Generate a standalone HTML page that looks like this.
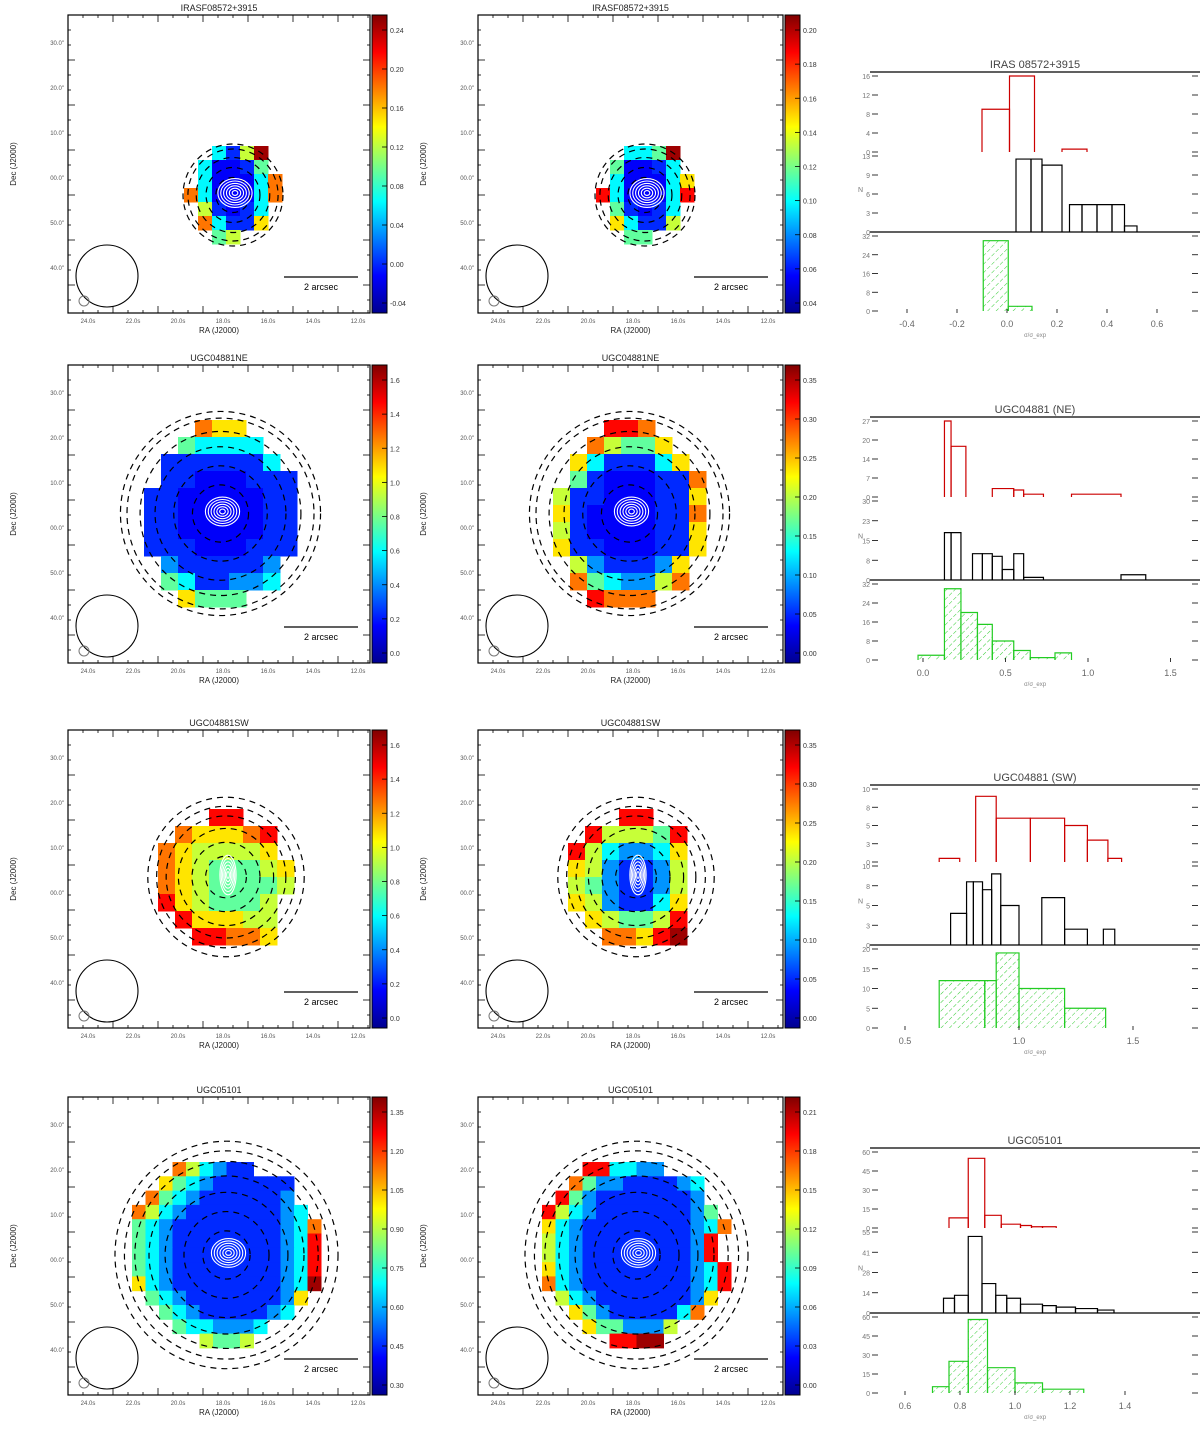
<!DOCTYPE html>
<html><head><meta charset="utf-8"><style>
html,body{margin:0;padding:0;background:#fff;}
svg{display:block;font-family:"Liberation Sans",sans-serif;}
</style></head><body>
<svg id="fig" width="1200" height="1431" viewBox="0 0 1200 1431" xmlns="http://www.w3.org/2000/svg">
<defs>
<linearGradient id="jet" x1="0" y1="1" x2="0" y2="0">
<stop offset="0" stop-color="#00008f"/><stop offset="0.125" stop-color="#0000ff"/>
<stop offset="0.375" stop-color="#00ffff"/><stop offset="0.625" stop-color="#ffff00"/>
<stop offset="0.875" stop-color="#ff0000"/><stop offset="1" stop-color="#800000"/>
</linearGradient>
<pattern id="hatch" width="6" height="6" patternUnits="userSpaceOnUse" patternTransform="rotate(45)">
<line x1="0" y1="0" x2="0" y2="6" stroke="#33cc33" stroke-width="1" stroke-dasharray="2,2"/>
</pattern>
</defs>
</svg>
<script>
// ---------- map data (colour index 0..9, '.' = empty) ----------
const titles = ["IRASF08572+3915","UGC04881NE","UGC04881SW","UGC05101"];
const gridR1P1 = ["..3159.",".30014.",".300037","7300037",".51013.",".73116.","..45..."];
const gridR1P2 = ["..3349.",".40013.",".300036","8300038",".41013.",".63115.","..44..."];
const gridR2P1 = ["...766...","..43333..",".1111113.",".11000111","110000011","110000011","110000011","111000111",".2111112.",".4311223.","..6444..."];
const gridR2P2 = ["...887...","..75446..",".6311136.",".41000117","511000116","610000117","510000116","611000116",".5211126.",".7432257.","..8777..."];
const gridR3P1 = ["...88...",".766678.","7655556.","76544456","76544445","8654445.",".866655.","..88776."];
const gridR3P2 = ["...88...",".855548.","8532236.","6521125.","5421125.","6521136.",".654458.","..77689."];
const gridR4P1 = ["...753211.....","..6432111111..",".74321111112..","7532111111123.","43211111111237","43211111111238","43211111111238","43211111111238","63211111111239",".432111111126.","..4321111123..","...4332223....",".....5445....."];
const gridR4P2 = ["...883322.....","..7422111123..",".84211111112..","8532111111124.","63211111111237","5321111111128.","5321111111128.","63211111111238","73211111111238",".532111111126.","..6421111137..","...6442225....",".....8899....."];
const cbLabelsR1P1 = ["0.24","0.20","0.16","0.12","0.08","0.04","0.00","-0.04"];
const cbLabelsR1P2 = ["0.20","0.18","0.16","0.14","0.12","0.10","0.08","0.06","0.04"];
const cbLabelsR2P1 = ["1.6","1.4","1.2","1.0","0.8","0.6","0.4","0.2","0.0"];
const cbLabelsR2P2 = ["0.35","0.30","0.25","0.20","0.15","0.10","0.05","0.00"];
const cbLabelsR3P1 = ["1.6","1.4","1.2","1.0","0.8","0.6","0.4","0.2","0.0"];
const cbLabelsR3P2 = ["0.35","0.30","0.25","0.20","0.15","0.10","0.05","0.00"];
const cbLabelsR4P1 = ["1.35","1.20","1.05","0.90","0.75","0.60","0.45","0.30"];
const cbLabelsR4P2 = ["0.21","0.18","0.15","0.12","0.09","0.06","0.03","0.00"];
const raLabels = ["24.0s","22.0s","20.0s","18.0s","16.0s","14.0s","12.0s"];
const decLabels = ["30.0\"","20.0\"","10.0\"","00.0\"","50.0\"","40.0\""];

// ---------- histogram data ----------
const histTitles = ["IRAS 08572+3915","UGC04881 (NE)","UGC04881 (SW)","UGC05101"];
const h1XTicks = [-0.4,-0.2,0.0,0.2,0.4,0.6];
const h1RedEdges = [-0.1,0.01,0.11,0.22,0.32];   const h1RedN = [9,16,0,0.6];
const h1BlkEdges = [0.036,0.096,0.14,0.22,0.25,0.30,0.36,0.42,0.47,0.52]; const h1BlkN = [12,12,11,0,4.5,4.5,4.5,4.5,1];
const h1GrnEdges = [-0.095,0.005,0.1];           const h1GrnN = [30,2];
const h1YMax = [16,12.5,32];
const h2XTicks = [0.0,0.5,1.0,1.5];
const h2RedEdges = [0.13,0.17,0.26,0.42,0.55,0.61,0.73,0.9,1.2]; const h2RedN = [27,18,0,3,2.5,1,0,1];
const h2BlkEdges = [0.13,0.17,0.23,0.30,0.36,0.42,0.48,0.55,0.61,0.73,1.2,1.35]; const h2BlkN = [18,18,0,10,10,9,4,10,1,0,2];
const h2GrnEdges = [-0.03,0.13,0.23,0.33,0.42,0.55,0.65,0.8,0.9]; const h2GrnN = [2,30,20,15,8,4,1,3];
const h2YMax = [27,30,32];
const h3XTicks = [0.5,1.0,1.5];
const h3RedEdges = [0.65,0.74,0.81,0.9,1.05,1.2,1.3,1.39,1.45]; const h3RedN = [0.5,0,9,6,6,5,3,0.5];
const h3BlkEdges = [0.7,0.77,0.8,0.84,0.88,0.92,1.0,1.1,1.2,1.3,1.37,1.42]; const h3BlkN = [4,8,8,7,9,5,0,6,2,0,2];
const h3GrnEdges = [0.65,0.85,0.9,1.0,1.2,1.38]; const h3GrnN = [12,12,19,10,5];
const h3YMax = [10,10,20];
const h4XTicks = [0.6,0.8,1.0,1.2,1.4];
const h4RedEdges = [0.76,0.83,0.89,0.95,1.02,1.06,1.1,1.15]; const h4RedN = [8,55,10,3,2,1,1];
const h4BlkEdges = [0.74,0.78,0.83,0.88,0.93,0.97,1.02,1.1,1.15,1.22,1.3,1.36]; const h4BlkN = [10,12,52,20,12,10,6,5,4,3,2];
const h4GrnEdges = [0.7,0.76,0.83,0.9,1.0,1.1,1.25]; const h4GrnN = [5,25,58,20,8,3];
const h4YMax = [60,55,60];

// ---------- drawing ----------
const svg = document.getElementById('fig');
const NS = 'http://www.w3.org/2000/svg';
function mk(tag, attrs, parent){ const e=document.createElementNS(NS,tag); for(const k in attrs) e.setAttribute(k,attrs[k]); (parent||svg).appendChild(e); return e; }
function cl(v){return Math.max(0,Math.min(1,v));}
function jet(t){ const r=cl(1.5-Math.abs(4*t-3)), g=cl(1.5-Math.abs(4*t-2)), b=cl(1.5-Math.abs(4*t-1));
  return 'rgb('+Math.round(r*255)+','+Math.round(g*255)+','+Math.round(b*255)+')'; }
const colorStops = [0.12,0.165,0.27,0.37,0.47,0.57,0.65,0.76,0.87,0.97];
function idxColor(i){ return jet(colorStops[i]); }

const rowsY = [15,365,730,1097];
const contourF = [[0.35,0.55,0.75,0.92,1.02],[0.3,0.5,0.7,0.86,1.0,1.07],[0.3,0.5,0.7,0.88,1.02,1.15],[0.25,0.45,0.65,0.82,0.97,1.08,1.18]];
const mapGeo = [
 [{x:68,w:302,grid:gridR1P1,ox:184,oy:146,cw:14,ch:14,cb:cbLabelsR1P1},{x:478,w:305,grid:gridR1P2,ox:596,oy:146,cw:14,ch:14,cb:cbLabelsR1P2}],
 [{x:68,w:302,grid:gridR2P1,ox:144,oy:420,cw:17,ch:17,cb:cbLabelsR2P1},{x:478,w:305,grid:gridR2P2,ox:553,oy:420,cw:17,ch:17,cb:cbLabelsR2P2}],
 [{x:68,w:302,grid:gridR3P1,ox:158,oy:809,cw:17,ch:17,cb:cbLabelsR3P1},{x:478,w:305,grid:gridR3P2,ox:568,oy:809,cw:17,ch:17,cb:cbLabelsR3P2}],
 [{x:68,w:302,grid:gridR4P1,ox:132,oy:1162,cw:13.5,ch:14.3,cb:cbLabelsR4P1},{x:478,w:305,grid:gridR4P2,ox:542,oy:1162,cw:13.5,ch:14.3,cb:cbLabelsR4P2}]
];
const H = 298;

mapGeo.forEach((row,ri)=>{
 row.forEach((p,pi)=>{
  const y0 = rowsY[ri], x0=p.x, w=p.w;
  const g = mk('g',{});
  
  
  p.grid.forEach((rs,r)=>{ for(let c=0;c<rs.length;c++){ const ch=rs[c]; if(ch==='.'||ch===' ') continue;
    const cell = mk('rect',{x:p.ox+c*p.cw,y:p.oy+r*p.ch,width:p.cw+0.5,height:p.ch+0.5,fill:idxColor(+ch)},g);
    
    
  }});
  const ncol = Math.max(...p.grid.map(s=>s.length)), nrow=p.grid.length;
  const cx = p.ox+ncol*p.cw/2, cy = p.oy+nrow*p.ch/2;
  const R = Math.max(ncol*p.cw,nrow*p.ch)/2;
  contourF[ri].forEach(f=>{
    const c=mk('ellipse',{cx:cx,cy:cy,rx:R*f,ry:R*f*1.02,fill:'none',stroke:'#000','stroke-width':1.2,'stroke-dasharray':'6,5'},g);
    
    
  });
  [3,6,9,12,15,18].forEach(r=>{
    const c=mk('ellipse',{cx:cx+2,cy:cy-2,rx:r*(ri===2?0.45:0.95),ry:r*(ri===2?1.1:0.8),fill:'none',stroke:'#fff','stroke-width':1.1},g);
    
    
  });
  const fr=mk('rect',{x:x0,y:y0,width:w,height:H,fill:'none',stroke:'#000','stroke-width':1.2},g);
  
  
  for(let t=x0+15;t<x0+w;t+=15){ const L=(Math.round((t-x0)/15)%3===0)?7:3;
    mk('line',{x1:t,y1:y0+H,x2:t,y2:y0+H-L,stroke:'#000','stroke-width':0.8},g);
    mk('line',{x1:t,y1:y0,x2:t,y2:y0+L,stroke:'#000','stroke-width':0.8},g); }
  for(let t=y0+15;t<y0+H;t+=15){ const L=(Math.round((t-y0)/15)%3===0)?7:3;
    mk('line',{x1:x0,y1:t,x2:x0+L,y2:t,stroke:'#000','stroke-width':0.8},g);
    mk('line',{x1:x0+w,y1:t,x2:x0+w-L,y2:t,stroke:'#000','stroke-width':0.8},g); }
  const tt=mk('text',{x:x0+w/2,y:y0-4,'text-anchor':'middle','font-size':9,fill:'#222'},g); tt.textContent=titles[ri];
   
  raLabels.forEach((s,i)=>{ const t=mk('text',{x:x0+20+i*45,y:y0+H+10,'text-anchor':'middle','font-size':6,fill:'#555'},g); t.textContent=s;
      });
  decLabels.forEach((s,i)=>{ const t=mk('text',{x:x0-4,y:y0+30+i*45,'text-anchor':'end','font-size':6,fill:'#555'},g); t.textContent=s;
      });
  const xl=mk('text',{x:x0+w/2,y:y0+H+20,'text-anchor':'middle','font-size':8,fill:'#222'},g); xl.textContent='RA (J2000)';
   
  const yl=mk('text',{x:0,y:0,'text-anchor':'middle','font-size':8,fill:'#222',transform:'translate('+(x0-52)+','+(y0+H/2)+') rotate(-90)'},g); yl.textContent='Dec (J2000)';
   
  const bm=mk('circle',{cx:x0+39,cy:y0+H-37,r:31,fill:'none',stroke:'#000','stroke-width':1.1},g);
   
  const bs=mk('circle',{cx:x0+16,cy:y0+H-12,r:5,fill:'none',stroke:'#777','stroke-width':1},g);
   
  const sb=mk('line',{x1:x0+216,y1:y0+H-36,x2:x0+290,y2:y0+H-36,stroke:'#000','stroke-width':1.2},g);
   
  const st=mk('text',{x:x0+253,y:y0+H-23,'text-anchor':'middle','font-size':9,fill:'#000'},g); st.textContent='2 arcsec';
   
  const bx=x0+w+2;
  const cb=mk('rect',{x:bx,y:y0,width:15,height:H,fill:'url(#jet)',stroke:'#000','stroke-width':1},g);
   
  const n=p.cb.length;
  p.cb.forEach((s,i)=>{ const ty=y0+15+i*(H-25)/(n-1);
    mk('line',{x1:bx+15,y1:ty,x2:bx+10,y2:ty,stroke:'#000','stroke-width':0.8},g);
    const t=mk('text',{x:bx+18,y:ty+3,'font-size':7,fill:'#333'},g); t.textContent=s;
      });
 });
});

const histGeo = [
 {x0:1007,sc:250,ys:[72,152,232,313],ticks:h1XTicks,red:[h1RedEdges,h1RedN],blk:[h1BlkEdges,h1BlkN],grn:[h1GrnEdges,h1GrnN],ym:h1YMax},
 {x0:923,sc:165,ys:[417,497,580,662],ticks:h2XTicks,red:[h2RedEdges,h2RedN],blk:[h2BlkEdges,h2BlkN],grn:[h2GrnEdges,h2GrnN],ym:h2YMax,off:0},
 {x0:905,sc:228,off:0.5,ys:[785,862,945,1030],ticks:h3XTicks,red:[h3RedEdges,h3RedN],blk:[h3BlkEdges,h3BlkN],grn:[h3GrnEdges,h3GrnN],ym:h3YMax},
 {x0:905,sc:275,off:0.6,ys:[1148,1228,1313,1395],ticks:h4XTicks,red:[h4RedEdges,h4RedN],blk:[h4BlkEdges,h4BlkN],grn:[h4GrnEdges,h4GrnN],ym:h4YMax}
];
histGeo.forEach((h,hi)=>{
  const g=mk('g',{});
  
  
  const X=v=>h.x0+h.sc*(v-(h.off||0));
  const L=870, Rr=1200;
  mk('line',{x1:L,y1:h.ys[0],x2:Rr,y2:h.ys[0],stroke:'#000','stroke-width':1.2},g);
  mk('line',{x1:L,y1:h.ys[2],x2:Rr,y2:h.ys[2],stroke:'#000','stroke-width':1.2},g);
  const tt=mk('text',{x:1035,y:h.ys[0]-4,'text-anchor':'middle','font-size':11,fill:'#444'},g); tt.textContent=histTitles[hi];
   
  const series=[[h.red,'#cc0000',0],[h.blk,'#000',1],[h.grn,'#22cc22',2]];
  series.forEach(([d,col,k])=>{
    const top=h.ys[k]+4, base=h.ys[k+1]-(k===2?2:0);
    const Y=c=>base-(c/h.ym[k])*(base-top);
    const edges=d[0], n=d[1];
    for(let j=0;j<=4;j++){ const ty=base-j*(base-top)/4;
      mk('line',{x1:L+2,y1:ty,x2:L+8,y2:ty,stroke:'#000','stroke-width':0.8},g);
      mk('line',{x1:Rr-2,y1:ty,x2:Rr-8,y2:ty,stroke:'#000','stroke-width':0.8},g);
      const t=mk('text',{x:L,y:ty+3,'text-anchor':'end','font-size':7,fill:'#777'},g); t.textContent=Math.round(j*h.ym[k]/4);
        }
    for(let i=0;i<n.length;i++){ if(n[i]<=0) continue;
      const xa=X(edges[i]), xb=X(edges[i+1]), yt=Y(n[i]);
      if(k===2){ const hf=mk('rect',{x:xa,y:yt,width:xb-xa,height:base-yt,fill:'url(#hatch)'},g);
          }
      const b=mk('path',{d:'M'+xa+','+base+'V'+yt+'H'+xb+'V'+base,fill:'none',stroke:col,'stroke-width':1.2},g);
       
    }
  });
  h.ticks.forEach(v=>{ const tx=X(v);
    const t=mk('text',{x:tx,y:h.ys[3]+14,'text-anchor':'middle','font-size':9,fill:'#666'},g); t.textContent=v.toFixed(1);
     
    mk('line',{x1:tx,y1:h.ys[3],x2:tx,y2:h.ys[3]-4,stroke:'#000','stroke-width':0.8},g);
  });
  const xl=mk('text',{x:1035,y:h.ys[3]+24,'text-anchor':'middle','font-size':6,fill:'#888'},g); xl.textContent='σ/σ_exp';
   
  const yl=mk('text',{x:858,y:(h.ys[1]+h.ys[2])/2,'font-size':7,fill:'#777'},g); yl.textContent='N';
   
});
</script>
</body></html>
